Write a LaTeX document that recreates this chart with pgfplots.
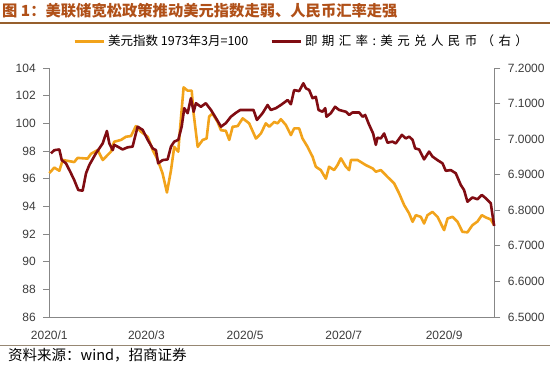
\documentclass[border=0pt]{standalone}
\usepackage{pgfplots}
\pgfplotsset{compat=1.18}
\usepackage{fontspec}
\setmainfont{Liberation Sans}
\newfontfamily\cjk{Noto Sans CJK SC}
\definecolor{dxy}{RGB}{242,163,27}
\definecolor{cny}{RGB}{128,12,18}
\definecolor{titlec}{RGB}{176,80,24}
\definecolor{titleline}{RGB}{150,95,45}
\definecolor{srcline}{RGB}{150,135,115}
\definecolor{axgray}{RGB}{135,135,135}
\definecolor{lblgray}{RGB}{60,60,60}

\pgfplotstableread{
d v
0 96.4
3.1 96.8
6.2 96.57
8.3 97.35
15.4 97.2
17.5 97.5
23.7 97.45
25.8 97.8
29.9 98.07
33.0 97.35
38.1 97.95
40.1 98.67
44.3 98.8
47.4 99.03
50.5 99.08
53.5 99.8
56.6 99.4
60.8 99.03
63.9 98.07
67.0 97.35
70.0 96.38
72.7 95.0
75.2 96.6
77.2 98.3
79.7 97.95
80.9 99.75
83.0 102.6
85.5 102.36
88.0 102.36
89.2 100.7
91.7 98.3
94.8 98.8
97.2 98.9
98.8 100.5
100.9 100.7
104.0 100.1
106.1 99.5
109.1 99.46
111.2 98.8
113.3 99.75
116.4 99.8
119.5 100.36
123.5 100.0
127.7 98.9
130.8 99.27
133.8 100.0
135.9 99.75
139.0 100.1
141.1 100.0
143.1 100.3
146.2 99.88
149.3 99.15
151.3 99.63
154.4 99.63
156.5 98.9
159.6 98.3
162.7 97.58
164.7 96.86
167.8 96.62
170.9 96.0
172.9 96.86
176.0 96.62
178.1 96.98
180.2 97.47
183.3 96.86
185.3 96.62
186.4 97.35
190.5 97.35
195.6 96.98
199.8 96.74
201.8 96.5
204.9 96.62
209.0 96.13
213.1 95.66
216.2 94.93
219.3 94.09
222.4 93.48
224.5 92.88
226.5 93.36
229.6 93.24
231.6 92.76
233.7 93.36
236.8 93.6
239.9 93.24
244.0 92.28
246.1 93.12
249.2 93.24
252.3 92.88
255.3 92.16
258.4 92.12
261.5 92.64
264.6 92.9
267.3 93.36
269.7 93.2
272.8 93.05
274.9 92.64
}\dxytable

\pgfplotstableread{
d v
1.0 6.96
3.1 6.969
6.2 6.971
7.7 6.941
10.3 6.932
13.4 6.904
15.4 6.885
17.9 6.857
20.6 6.855
22.7 6.904
24.7 6.927
28.8 6.96
33.0 6.988
35.6 7.023
37.1 6.988
39.2 6.969
40.1 6.984
42.2 6.979
45.3 6.971
48.4 6.977
51.5 6.979
52.5 6.998
54.6 7.035
57.7 7.026
60.8 6.998
63.9 6.974
65.9 6.969
67.3 6.932
70.0 6.941
73.1 6.943
75.2 6.979
77.2 6.993
79.7 6.998
81.8 7.035
83.4 7.087
85.5 7.073
87.5 7.115
89.2 7.077
90.6 7.101
93.7 7.091
96.7 7.101
99.9 7.082
103.0 7.059
106.1 7.035
109.1 7.045
112.2 7.063
115.3 7.074
118.0 7.082
120.4 7.082
123.5 7.082
126.2 7.082
128.3 7.054
131.8 7.073
134.9 7.096
136.9 7.082
140.0 7.087
143.1 7.096
147.3 7.110
149.3 7.098
151.3 7.138
154.4 7.135
157.0 7.157
158.6 7.143
160.6 7.138
162.7 7.115
164.7 7.119
166.4 7.082
168.8 7.077
170.5 7.087
171.3 7.063
174.0 7.073
176.6 7.091
179.1 7.082
183.3 7.077
185.3 7.068
187.4 7.075
191.5 7.075
193.6 7.063
195.2 7.068
197.7 7.040
200.1 7.016
201.8 6.984
202.8 7.004
204.9 7.002
206.9 7.016
209.0 6.99
212.1 6.993
214.1 6.988
217.9 7.012
220.3 7.002
222.4 7.007
224.5 6.998
226.1 6.974
228.5 6.971
231.6 6.943
234.7 6.965
236.8 6.951
239.9 6.941
243.0 6.932
245.0 6.911
248.1 6.913
251.2 6.904
254.3 6.871
256.3 6.857
258.4 6.824
261.5 6.836
264.6 6.831
267.3 6.843
269.7 6.834
272.8 6.820
274.9 6.756
}\cnytable

\begin{document}
\begin{tikzpicture}[x=1pt,y=1pt]
\pgfplotsset{
  common/.style={
    scale only axis,
    width=445pt, height=249pt,
    xmin=0, xmax=275,
    tick align=outside, major tick length=6pt,
    axis line style={draw=axgray, line width=0.8pt},
    every tick/.style={draw=axgray, line width=0.8pt},
    tick label style={font=\fontsize{12}{14}\selectfont, text=lblgray},
    /pgf/number format/assume math mode=true,
    clip=false,
  }
}

\begin{axis}[common,
  axis x line*=bottom, axis y line*=left,
  ymin=86, ymax=104, ytick={86,88,...,104},
  xtick={0,60,121,182,244},
  xticklabels={2020/1,2020/3,2020/5,2020/7,2020/9},
  xtick style={draw=none},
  xticklabel style={yshift=-4pt},
  yticklabel style={xshift=-4pt},
]
\coordinate (o) at (rel axis cs:0,0);
\addplot[color=dxy, line width=2.6pt, line join=round, no markers] table[x=d,y=v] {\dxytable};
\end{axis}

\begin{axis}[common,
  axis x line=none, axis y line*=right,
  ymin=6.5, ymax=7.2, ytick={6.5,6.6,...,7.2},
  yticklabel style={xshift=4pt, /pgf/number format/.cd, fixed, fixed zerofill, precision=4},
  legend columns=2,
  legend style={draw=none, fill=none, at={(0.053,1.108)}, anchor=west,
    inner sep=0pt, font=\cjk\fontsize{12.5}{14}\selectfont,
    /tikz/every odd column/.append style={column sep=3pt},
    nodes={inner sep=0pt}},
  legend image code/.code={\draw[line width=3pt] (0pt,0pt) -- (29pt,0pt);},
]
\addlegendimage{color=dxy}
\addlegendentry{\makebox[162pt][l]{美元指数 1973年3月=100}}
\addplot[color=cny, line width=2.6pt, line join=round, no markers] table[x=d,y=v] {\cnytable};
\addlegendentry{\addfontfeature{LetterSpace=35}即期汇率:美元兑人民币（右）}
\end{axis}

\pgfresetboundingbox
\begin{scope}[shift={(o)}, xshift=-49.3pt, yshift=-49pt]
\path[use as bounding box] (0,0) rectangle (550,366);
\node[anchor=base west, text=titlec, font=\cjk\bfseries\fontsize{15.3}{17}\selectfont, inner sep=0pt] at (2,349.5) {图 1：美联储宽松政策推动美元指数走弱、人民币汇率走强};
\draw[color=titleline, line width=1.5pt] (0,343) -- (550,343);
\draw[color=srcline, line width=1.2pt] (0,20.5) -- (550,20.5);
\node[anchor=west, font=\cjk\fontsize{14.5}{16}\selectfont, inner sep=0pt] at (8,10.5) {资料来源：wind，招商证券};
\end{scope}
\end{tikzpicture}
\end{document}
